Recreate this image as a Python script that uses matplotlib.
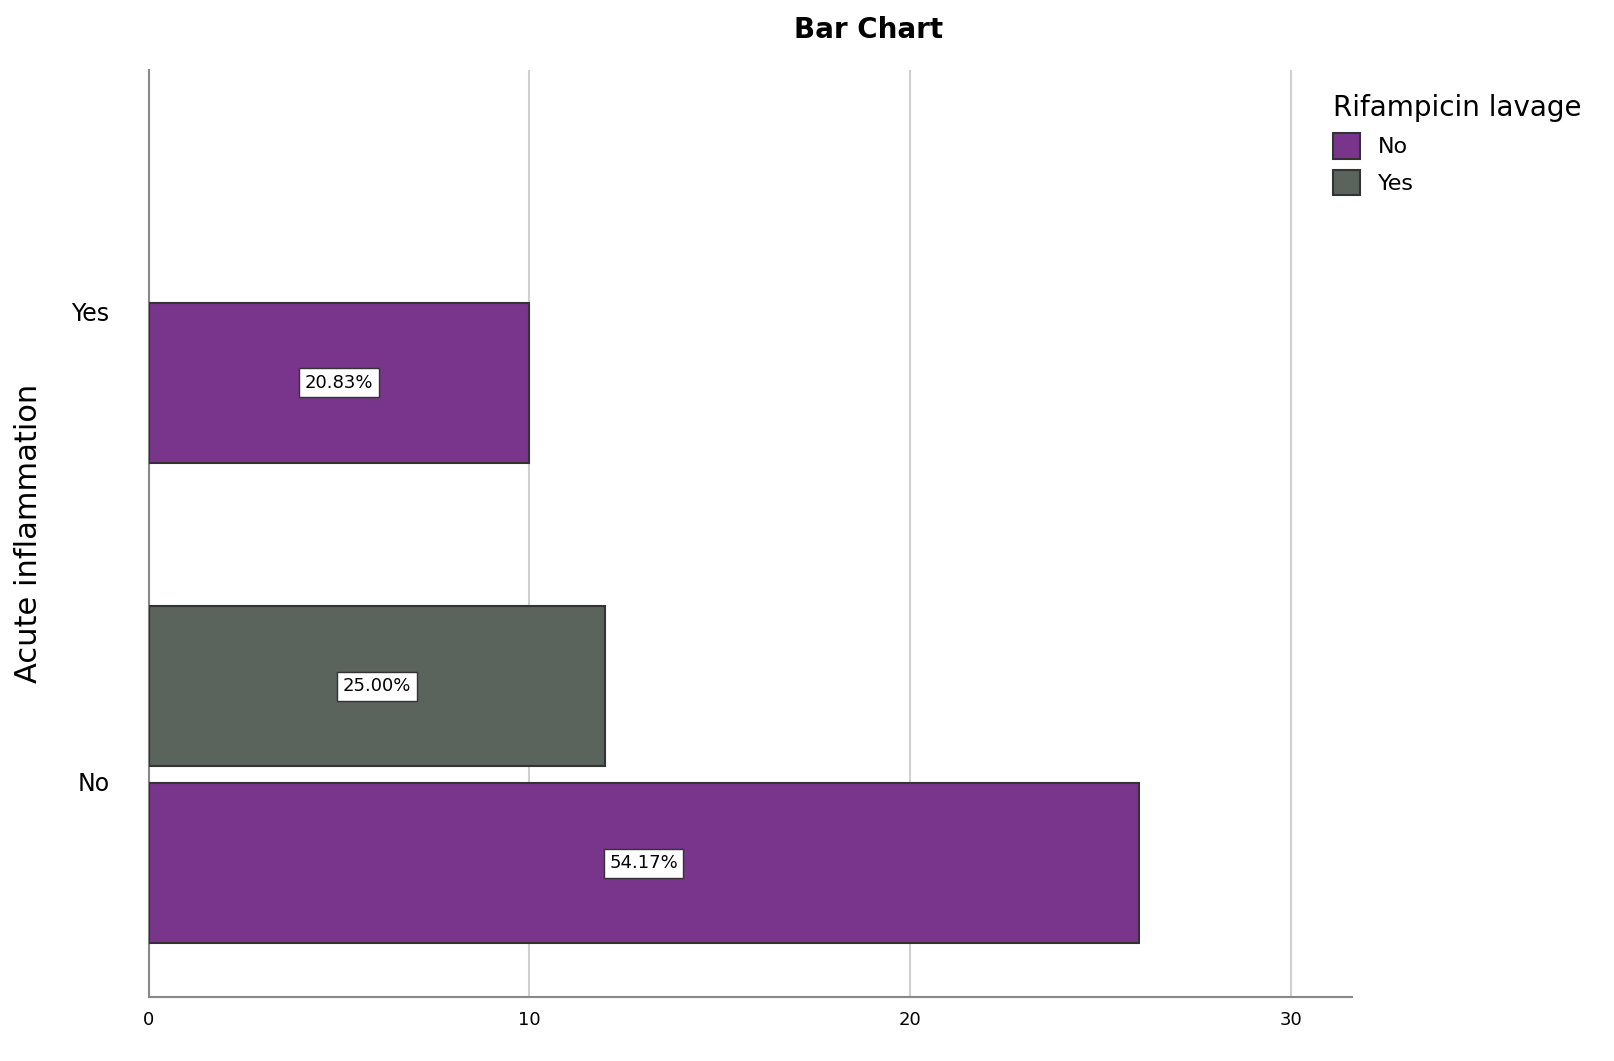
import matplotlib
matplotlib.use("Agg")
import matplotlib.pyplot as plt

categories = ["No", "Yes"]           # Acute inflammation
series = ["No", "Yes"]               # Rifampicin lavage
counts_no = [26, 10]                 # Rifampicin No
counts_yes = [12, 0]                 # Rifampicin Yes
labels_no = ["54.17%", "20.83%"]
labels_yes = ["25.00%", None]
colors = {"No": "#79358C", "Yes": "#5B635D"}

fig = plt.figure(figsize=(16.15, 10.61), dpi=100)
ax = fig.add_axes([0.092, 0.06, 0.745, 0.874])

pos_no = [0.0, 3.01]
pos_yes = [1.11, None]
h = 1.0
for i in range(2):
    ax.barh(pos_no[i], counts_no[i], height=h, color=colors["No"], edgecolor="#333333", linewidth=1.5, zorder=3,
            label="No" if i == 0 else None)
    ax.text(counts_no[i] / 2, pos_no[i], labels_no[i], ha="center", va="center", fontsize=13, zorder=4,
            bbox=dict(facecolor="white", edgecolor="#333333", boxstyle="square,pad=0.3"))
    if counts_yes[i] and pos_yes[i] is not None:
        ax.barh(pos_yes[i], counts_yes[i], height=h, color=colors["Yes"], edgecolor="#333333", linewidth=1.5,
                zorder=3, label="Yes")
        ax.text(counts_yes[i] / 2, pos_yes[i], labels_yes[i], ha="center", va="center", fontsize=13, zorder=4,
                bbox=dict(facecolor="white", edgecolor="#333333", boxstyle="square,pad=0.3"))

ax.set_xlim(0, 31.6)
ax.set_ylim(-0.84, 4.97)
ax.set_xticks([0, 10, 20, 30])
ax.set_xticklabels(["0", "10", "20", "30"], fontsize=13)
ax.set_yticks([0.51, 3.46])
ax.set_yticklabels(categories, fontsize=17)
ax.tick_params(axis="y", length=0, pad=28)
ax.tick_params(axis="x", length=0, pad=10)
ax.grid(axis="x", color="#d0d0d0", linewidth=1.5, zorder=0)
for s in ["top", "right"]:
    ax.spines[s].set_visible(False)
for s in ["left", "bottom"]:
    ax.spines[s].set_color("#888888")
    ax.spines[s].set_linewidth(1.5)
ax.set_ylabel("Acute inflammation", fontsize=22, labelpad=10)
ax.yaxis.set_label_coords(-0.088, 0.5)
fig.suptitle("Bar Chart", fontsize=20, fontweight="bold", x=0.538, y=0.985)

leg = fig.legend(loc="upper left", bbox_to_anchor=(0.82, 0.92), title="Rifampicin lavage",
                 frameon=False, fontsize=16, title_fontsize=20, handlelength=1.2, handleheight=1.4,
                 borderaxespad=0)
leg._legend_box.align = "left"
fig.savefig("out.png", dpi=100)
